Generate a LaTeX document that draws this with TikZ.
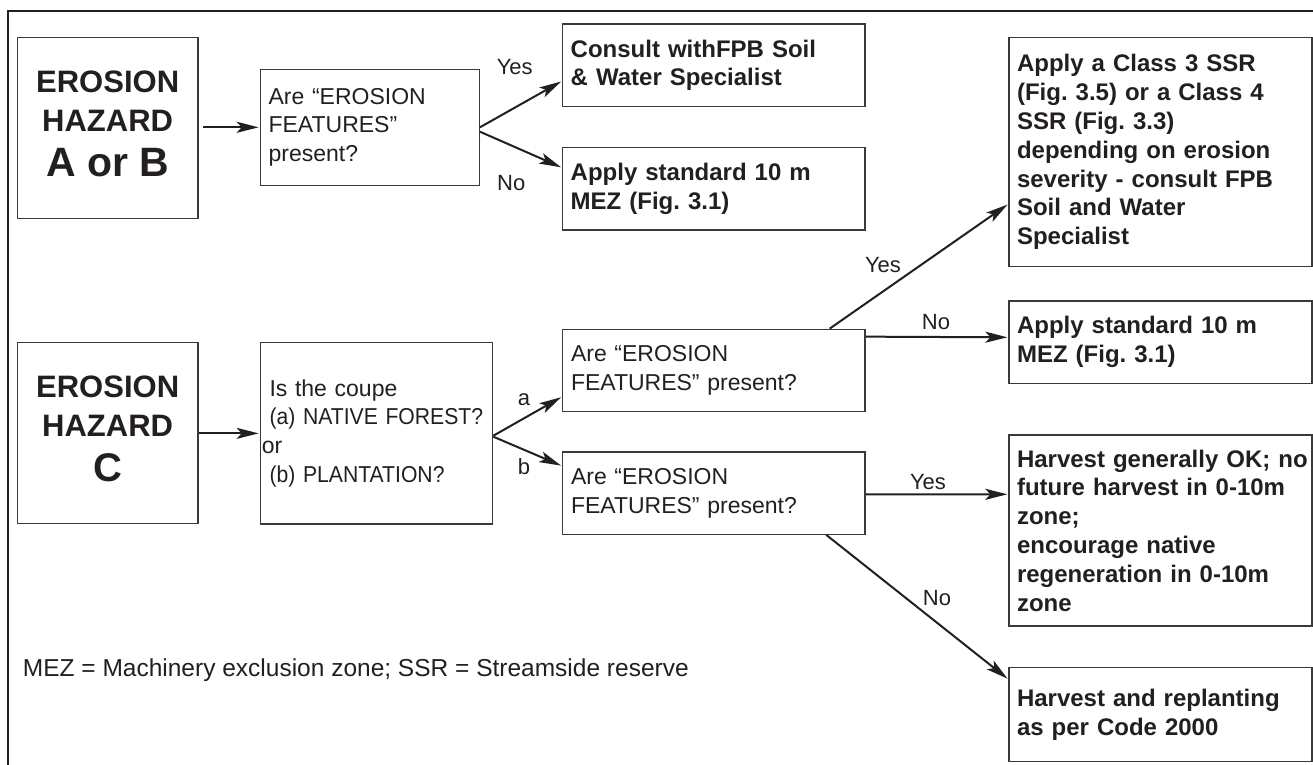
\documentclass[tikz,border=0pt]{standalone}
\usepackage{fontspec}
\setmainfont{Liberation Sans}
\newfontfamily\narrowreg[FakeStretch=0.92]{Liberation Sans}
\usetikzlibrary{arrows.meta}
\definecolor{ink}{HTML}{231F20}
\definecolor{edge}{HTML}{3A3A3A}
\begin{document}
\frenchspacing
\begin{tikzpicture}[x=1pt,y=-1pt,
  every node/.style={text=ink},
  box/.style={draw=edge, line width=1.3pt, rectangle, inner ysep=0pt, align=left},
  qbox/.style={box, inner xsep=8.3pt, font=\fontsize{23}{28.7}\selectfont},
  abox/.style={box, inner xsep=8pt, font=\fontsize{24}{28.8}\selectfont\bfseries},
  tbox/.style={box, inner xsep=0pt, align=center, font=\fontsize{31}{38.3}\selectfont\bfseries},
  lab/.style={inner sep=0pt, font=\fontsize{22}{26}\selectfont},
  arr/.style={draw=ink, line width=2pt, -{Stealth[length=22pt,width=11pt,inset=5pt]}, shorten >=1pt},
]
\useasboundingbox (0,0) rectangle (1313,764);
% frame
\draw[draw=ink, line width=1.3pt] (8,800) -- (8,11) -- (1350,11);

% title boxes
\node[tbox, minimum width=180.7pt, minimum height=180.6pt] (ab) at (107.65,128)
  {EROSION\\HAZARD\\[7.4pt]{\fontsize{41}{46}\selectfont A or B}\rule[-8pt]{0pt}{8pt}};
\node[tbox, minimum width=180.7pt, minimum height=180.6pt] (cc) at (107.65,433)
  {EROSION\\HAZARD\\[7.4pt]{\fontsize{40}{46}\selectfont C}\rule[-8pt]{0pt}{8pt}};

% question boxes
\node[qbox, text width=202.4pt, minimum height=116pt] (q1) at (369.8,127.3)
  {Are “EROSION\\FEATURES”\\present?};
\node[qbox, inner xsep=1.5pt, text width=229.4pt, minimum height=181.3pt] (q2) at (376.5,433.35)
  {\hspace*{7.7pt}Is the coupe\\\hspace*{7.7pt}{\narrowreg (a) NATIVE FOREST?}\\or\\\hspace*{7.7pt}{\narrowreg (b) PLANTATION?}};
\node[qbox, text width=285.7pt, minimum height=82pt] (q3a) at (713.85,370.3)
  {Are “EROSION\\FEATURES” present?};
\node[qbox, text width=285.7pt, minimum height=82.3pt] (q3b) at (713.85,493.15)
  {Are “EROSION\\FEATURES” present?};

% answer boxes
\node[abox, text width=286.3pt, minimum height=82.7pt] (consult) at (713.85,65.35)
  {Consult withFPB Soil\\\& Water Specialist};
\node[abox, text width=286.3pt, minimum height=82.3pt] (std1) at (713.85,188.85)
  {Apply standard 10 m\\MEZ (Fig. 3.1)};
\node[abox, text width=287pt, minimum height=229.4pt] (big) at (1160.5,152)
  {Apply a Class 3 SSR\\(Fig. 3.5) or a Class 4\\SSR (Fig. 3.3)\\depending on erosion\\severity - consult FPB\\Soil and Water\\Specialist};
\node[abox, text width=287pt, minimum height=82.3pt] (std2) at (1160.5,342.15)
  {Apply standard 10 m\\MEZ (Fig. 3.1)};
\node[abox, text width=287pt, minimum height=191pt] (harv) at (1160.5,530.5)
  {\mbox{Harvest generally OK; no}\\future harvest in 0-10m\\zone;\\encourage native\\regeneration in 0-10m\\zone};
\node[abox, text width=287pt, minimum height=94.4pt] (harv2) at (1160.5,714.5)
  {Harvest and replanting\\as per Code 2000};

% footnote
\node[anchor=base west, inner sep=0pt, font=\fontsize{24.5}{28}\selectfont] (note) at (22.7,676)
  {MEZ = Machinery exclusion zone; SSR = Streamside reserve};

% connectors
\draw[arr, shorten <=4.7pt] (q1.west -| ab.east) -- (q1.west);
\draw[arr] (q2.west -| cc.east) -- (q2.west);
\draw[arr] (q1.east) -- ([yshift=-15.65pt]consult.west);
\draw[arr] ([yshift=-4.4pt]q1.east) -- ([yshift=21.15pt]std1.west);
\draw[arr] ([yshift=-2.35pt]q2.east) -- ([yshift=-26.4pt]q3a.west);
\draw[arr] ([yshift=-3.35pt]q2.east) -- ([yshift=27.15pt]q3b.west);
\draw[arr] ([xshift=-36pt]q3a.north east) -- ([yshift=-52pt]big.west);
\draw[arr] ([yshift=-8pt]q3a.north east) -- ([yshift=4.85pt]std2.west);
\draw[arr] ([yshift=-1.15pt]q3b.east) -- ([yshift=36.2pt]harv.west);
\draw[arr] ([xshift=-39.3pt]q3b.south east) -- ([yshift=35.2pt]harv2.west);

% labels
\node[lab] (l1) at (514.7,67) {Yes};
\node[lab] (l2) at (511.3,183) {No};
\node[lab] (l3) at (524,400) {a};
\node[lab] (l4) at (524,467) {b};
\node[lab] (l5) at (883,265) {Yes};
\node[lab] (l6) at (936,322) {No};
\node[lab] (l7) at (928,482) {Yes};
\node[lab] (l8) at (937,598) {No};
\end{tikzpicture}
\end{document}
